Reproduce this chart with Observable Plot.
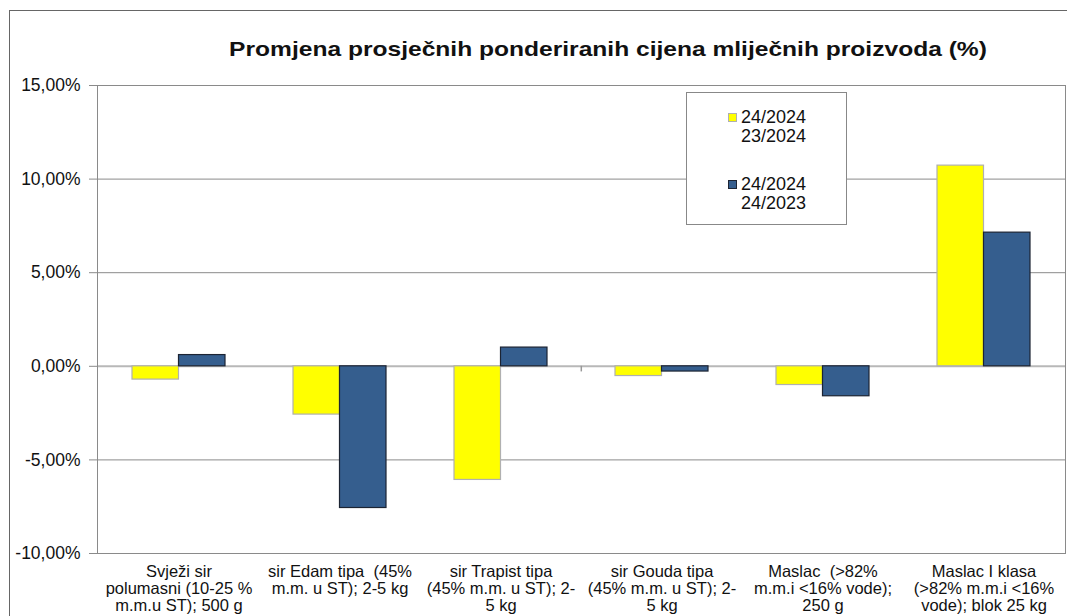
<!DOCTYPE html>
<html>
<head>
<meta charset="utf-8">
<script src="https://cdn.jsdelivr.net/npm/d3@7"></script>
<script src="https://cdn.jsdelivr.net/npm/@observablehq/plot@0.6"></script>
<style>
  html, body { margin: 0; padding: 0; background: #fff; }
  #wrap { position: relative; width: 1067px; height: 616px; overflow: hidden; font-family: "Liberation Sans", Arial, sans-serif; }
  #outer { position: absolute; left: 9px; top: 10px; width: 1070px; height: 620px; border-left: 1.5px solid #666; border-top: 1.5px solid #666; box-sizing: border-box; }
  #title { position: absolute; left: 0; width: 1216px; top: 37px; text-align: center; font-weight: bold; font-size: 21px; color: #111; white-space: nowrap; transform: scaleX(1.17); transform-origin: 608px 0; }
  #legend { position: absolute; left: 686px; top: 92px; width: 161px; height: 133px; border: 1px solid #888; background: #fff; box-sizing: border-box; font-size: 18px; color: #111; line-height: 19px; }
  .item { position: absolute; left: 54px; }
  .sw { position: absolute; left: -13px; top: 5px; width: 9px; height: 9px; box-sizing: border-box; }
  #plot { position: absolute; left: 0; top: 0; }
</style>
</head>
<body>
<div id="wrap">
  <div id="outer"></div>
  <div id="plot"></div>
  <div id="title"></div>
  <div id="legend"></div>
</div>
<script>
const chartTitle = "Promjena prosječnih ponderiranih cijena mliječnih proizvoda (%)";
const categories = [
  "Svježi sir\npolumasni (10-25 %\nm.m.u ST); 500 g",
  "sir Edam tipa  (45%\nm.m. u ST); 2-5 kg",
  "sir Trapist tipa\n(45% m.m. u ST); 2-\n5 kg",
  "sir Gouda tipa\n(45% m.m. u ST); 2-\n5 kg",
  "Maslac  (>82%\nm.m.i <16% vode);\n250 g",
  "Maslac I klasa\n(>82% m.m.i <16%\nvode); blok 25 kg"
];
const seriesNames = ["24/2024\n23/2024", "24/2024\n24/2023"];
const seriesColors = ["#FFFF00", "#355E8E"];
const seriesStrokes = ["#b0b0b0", "#1c2433"];
const values2324 = [-0.71, -2.58, -6.07, -0.52, -1.00, 10.72];
const values2423 = [0.60, -7.57, 1.00, -0.28, -1.60, 7.14];
const yTicks = [-10, -5, 0, 5, 10, 15];

const fmt = v => v.toFixed(2).replace(".", ",") + "%";

const dataA = categories.map((c, i) => ({cat: c, v: values2324[i]}));
const dataB = categories.map((c, i) => ({cat: c, v: values2423[i]}));

const plot = Plot.plot({
  width: 1067,
  height: 616,
  marginLeft: 97,
  marginRight: 2,
  marginTop: 85,
  marginBottom: 63,
  style: {fontFamily: "Liberation Sans, Arial, sans-serif", background: "transparent", overflow: "visible"},
  x: {domain: categories, padding: 0, label: null},
  y: {domain: [-10, 15], ticks: yTicks, label: null},
  marks: [
    Plot.ruleY(yTicks.filter(d => d !== 0), {stroke: "#8a8a8a", strokeWidth: 1}),
    Plot.ruleY([0], {stroke: "#b8b8b8", strokeWidth: 2}),
    Plot.ruleX([categories[3]], {y1: 0, y2: -0.3, dx: -80.7, stroke: "#999", strokeWidth: 1.5}),
    Plot.barY(dataA, {x: "cat", y: "v", fill: seriesColors[0], stroke: seriesStrokes[0], strokeWidth: 1.2, insetLeft: 34, insetRight: 80.5}),
    Plot.barY(dataB, {x: "cat", y: "v", fill: seriesColors[1], stroke: seriesStrokes[1], strokeWidth: 1.2, insetLeft: 80.5, insetRight: 34}),
    Plot.frame({stroke: "#8a8a8a", strokeWidth: 1}),
    Plot.axisY({ticks: yTicks, tickFormat: fmt, tickSize: 8, tickPadding: 9, fontSize: 17.5, stroke: "#8a8a8a", color: "#111"}),
    Plot.axisX({tickSize: 0, tickPadding: 11, fontSize: 16.5, lineHeight: 1.04, color: "#111", textAnchor: "middle"})
  ]
});
document.getElementById("plot").appendChild(plot);

document.getElementById("title").textContent = chartTitle;

const legend = document.getElementById("legend");
seriesNames.forEach((name, i) => {
  const item = document.createElement("div");
  item.className = "item";
  item.style.top = (i === 0 ? 15 : 82) + "px";
  item.style.whiteSpace = "pre";
  item.textContent = name;
  const sw = document.createElement("div");
  sw.className = "sw";
  sw.style.background = seriesColors[i];
  sw.style.border = "1px solid " + seriesStrokes[i];
  item.appendChild(sw);
  legend.appendChild(item);
});
</script>
</body>
</html>
